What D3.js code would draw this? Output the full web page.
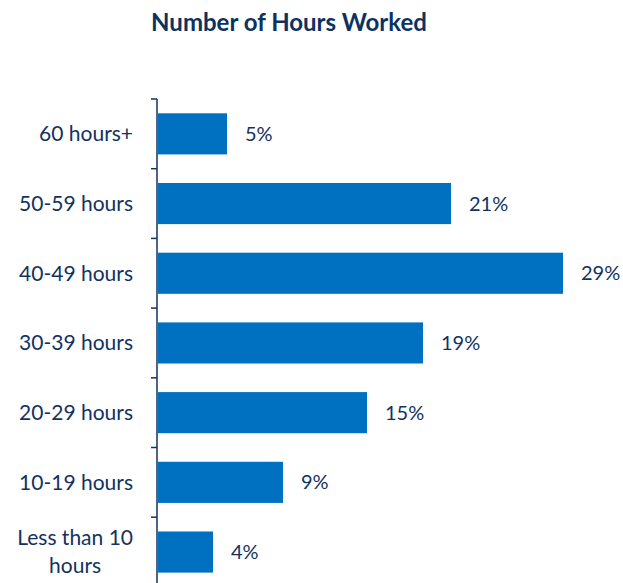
<!DOCTYPE html>
<html>
<head>
<meta charset="utf-8">
<script src="https://cdn.jsdelivr.net/npm/d3@7"></script>
<style>
  body { margin: 0; background: #fff; }
  text { font-family: Lato, "Open Sans", sans-serif; }
</style>
</head>
<body>
<div id="chart"></div>
<script>
// data, top to bottom
var categories = ["60 hours+", "50-59 hours", "40-49 hours", "30-39 hours", "20-29 hours", "10-19 hours", "Less than 10|hours"];
var values = [5, 21, 29, 19, 15, 9, 4];
var valueLabels = ["5%", "21%", "29%", "19%", "15%", "9%", "4%"];

var width = 623, height = 583;
var margin = {top: 99, left: 157};
var navy = "#12325f";

var svg = d3.select("#chart").append("svg")
    .attr("width", width)
    .attr("height", height);

svg.append("text")
    .attr("x", 289)
    .attr("y", 31)
    .attr("text-anchor", "middle")
    .style("font-size", "24px")
    .style("font-weight", "bold")
    .style("fill", "#0b3262")
    .text("Number of Hours Worked");

var x = d3.scaleLinear().domain([0, 29]).range([margin.left, 563]);
var y = d3.scaleBand().domain(categories).range([margin.top, margin.top + 7 * 69.7]).paddingInner(0.41).paddingOuter(0.205);

// bars
svg.selectAll(".bar").data(categories).enter().append("rect")
    .attr("class", "bar")
    .attr("x", x(0) + 1)
    .attr("y", function(d) { return y(d); })
    .attr("width", function(d, i) { return x(values[i]) - x(0) - 1; })
    .attr("height", y.bandwidth())
    .attr("fill", "#0070c0");

// value labels
svg.selectAll(".val").data(categories).enter().append("text")
    .attr("class", "val")
    .attr("x", function(d, i) { return x(values[i]) + 18; })
    .attr("y", function(d) { return y(d) + y.bandwidth() / 2; })
    .attr("dy", "0.35em")
    .style("font-size", "20px")
    .style("fill", navy)
    .text(function(d, i) { return valueLabels[i]; });

// axis line + ticks between categories
svg.append("line")
    .attr("x1", margin.left).attr("x2", margin.left)
    .attr("y1", margin.top).attr("y2", height)
    .attr("stroke", navy).attr("stroke-width", 1.5);

var step = y.step();
svg.selectAll(".tick").data(d3.range(8)).enter().append("line")
    .attr("x1", margin.left - 6).attr("x2", margin.left)
    .attr("y1", function(d) { return margin.top + d * step; })
    .attr("y2", function(d) { return margin.top + d * step; })
    .attr("stroke", navy).attr("stroke-width", 1.5);

// category labels (multi-line ones are centred on their widest line)
categories.forEach(function(c) {
    var lines = c.split("|");
    var cy = y(c) + y.bandwidth() / 2;
    var t = svg.append("text")
        .style("font-size", "21px")
        .style("fill", navy);
    if (lines.length == 1) {
        t.attr("x", 133).attr("y", cy).attr("dy", "0.35em")
            .attr("text-anchor", "end").text(c);
    } else {
        t.attr("text-anchor", "middle");
        lines.forEach(function(l, k) {
            t.append("tspan").attr("x", 0)
                .attr("y", cy + (k - (lines.length - 1) / 2) * 28)
                .attr("dy", "0.35em").text(l);
        });
        var w = d3.max(t.selectAll("tspan").nodes(), function(n) { return n.getComputedTextLength(); });
        t.selectAll("tspan").attr("x", 133 - w / 2);
    }
});
</script>
</body>
</html>
